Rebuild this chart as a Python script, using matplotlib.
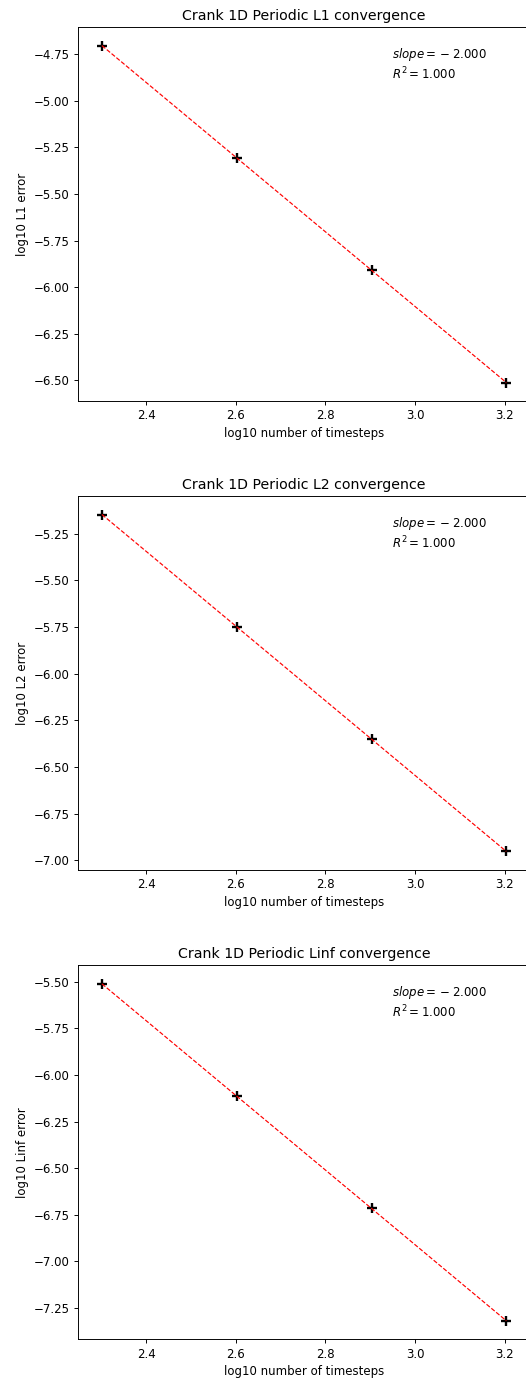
import numpy as np
import matplotlib
matplotlib.use("Agg")
import matplotlib.pyplot as plt

# log10 of number of timesteps (200, 400, 800, 1600)
log_steps = [2.301, 2.602, 2.903, 3.204]
norms = ["L1", "L2", "Linf"]
log_err_l1 = [-4.705, -5.307, -5.909, -6.511]
log_err_l2 = [-5.147, -5.749, -6.351, -6.953]
log_err_linf = [-5.512, -6.114, -6.716, -7.318]
errors = [log_err_l1, log_err_l2, log_err_linf]

dpi = 85
fig = plt.figure(figsize=(526 / dpi, 1382 / dpi), dpi=dpi)

bottoms = [0.7098, 0.3705, 0.0309]
for name, err, b in zip(norms, errors, bottoms):
  ax = fig.add_axes([0.1477, b, 0.861, 0.2706])
  x = np.array(log_steps)
  y = np.array(err)
  slope, icpt = np.polyfit(x, y, 1)
  fit = slope * x + icpt
  r2 = 1 - np.sum((y - fit) ** 2) / np.sum((y - y.mean()) ** 2)
  ax.plot(x, y, 'k+', ms=8, mew=2)
  ax.plot(x, fit, 'r--', lw=1)
  ax.margins(x=0.06, y=0.055)
  # old mathtext put binary spacing around the minus sign
  s_txt = ('%.3f' % slope).replace('-', '{}-')
  ax.text(0.695, 0.95, r'$slope = %s$' % s_txt + '\n' + r'$R^2 = %.3f$' % r2,
          transform=ax.transAxes, va='top', ha='left')
  ax.set_title(f"Crank 1D Periodic {name} convergence")
  ax.set_xlabel("log10 number of timesteps")
  ax.set_ylabel(f"log10 {name} error")
  ax.set_xticks([2.4, 2.6, 2.8, 3.0, 3.2])

fig.savefig("out.png", dpi=dpi)
